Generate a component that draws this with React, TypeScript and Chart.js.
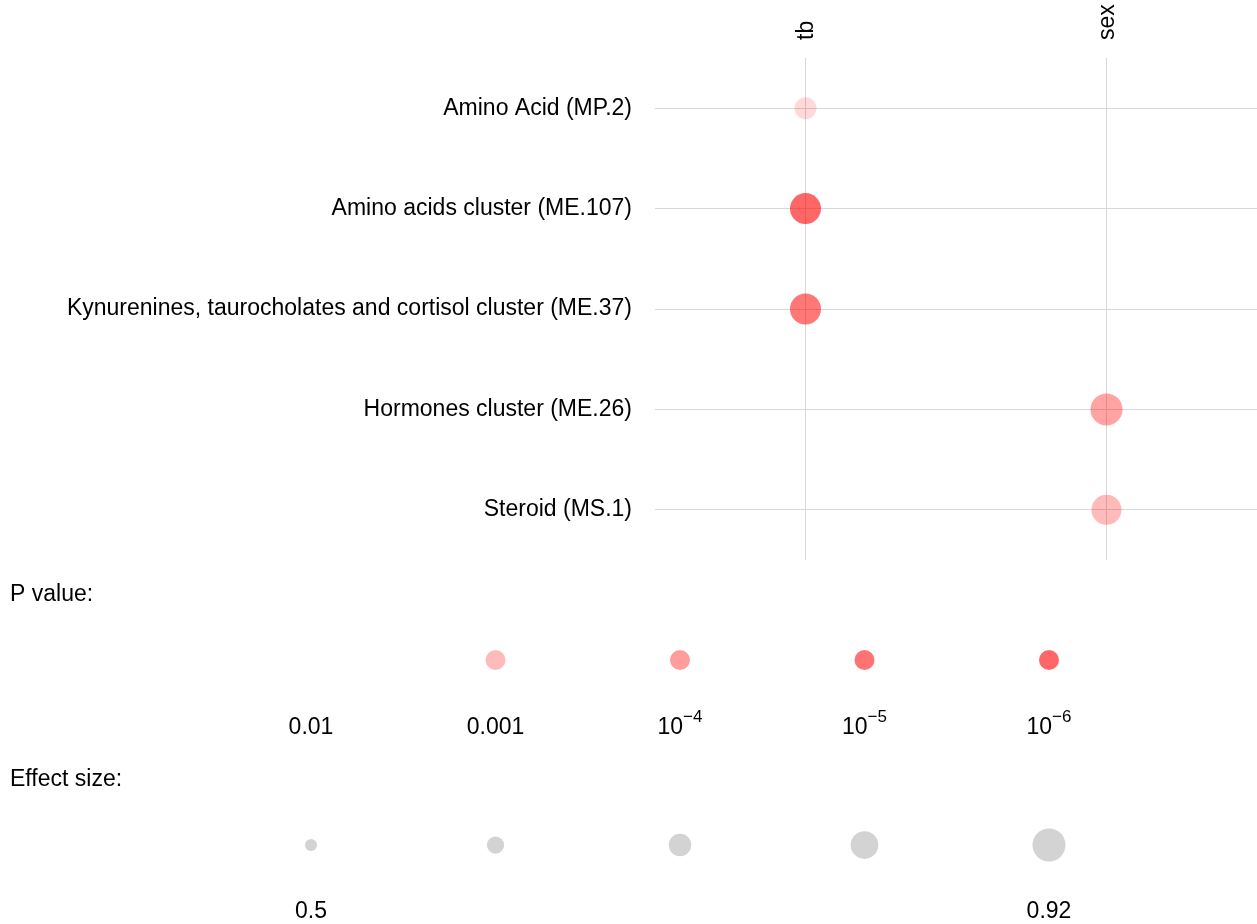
import React, { useEffect, useRef } from 'react';
import { Chart, registerables } from 'chart.js';

Chart.register(...registerables);

// ---------- data ----------
const rowLabels = [
  'Amino Acid (MP.2)',
  'Amino acids cluster (ME.107)',
  'Kynurenines, taurocholates and cortisol cluster (ME.37)',
  'Hormones cluster (ME.26)',
  'Steroid (MS.1)',
];
const columnLabels = ['tb', 'sex'];

const pointRows = [
  'Amino Acid (MP.2)',
  'Amino acids cluster (ME.107)',
  'Kynurenines, taurocholates and cortisol cluster (ME.37)',
  'Hormones cluster (ME.26)',
  'Steroid (MS.1)',
];
const pointColumns = ['tb', 'tb', 'tb', 'sex', 'sex'];
const pointPValues = [0.0028, 1e-7, 1.3e-5, 1.7e-4, 9.5e-4];
const pointEffects = [0.7, 0.88, 0.88, 0.9, 0.86];

const pLegendValues = [0.01, 0.001, 1e-4, 1e-5, 1e-6];
const pLegendLabels = ['0.01', '0.001', '10^\u22124', '10^\u22125', '10^\u22126'];
const effectLegendValues = [0.5, 0.605, 0.71, 0.815, 0.92];
const effectLegendLabels = ['0.5', '', '', '', '0.92'];

// ---------- styling ----------
const FONT_FAMILY = "'Liberation Sans', Arial, Helvetica, sans-serif";
const FONT_SIZE = 23;
const GRID_COLOR = '#d8d8d8';
const ALPHA_STOPS = [0, 0.267, 0.39, 0.55, 0.6]; // alpha at -log10(p) = 2..6
const EFFECT_MIN = 0.5;
const EFFECT_MAX = 0.92;
const R_MIN = 6;
const R_MAX = 16.5;

function alphaForP(p: number): number {
  const l = -Math.log10(p);
  const t = l - 2;
  if (t <= 0) return ALPHA_STOPS[0];
  if (t >= ALPHA_STOPS.length - 1) return ALPHA_STOPS[ALPHA_STOPS.length - 1];
  const i = Math.floor(t);
  const f = t - i;
  return ALPHA_STOPS[i] + (ALPHA_STOPS[i + 1] - ALPHA_STOPS[i]) * f;
}
function colorForP(p: number): string {
  return `rgba(255,0,0,${alphaForP(p).toFixed(3)})`;
}
function radiusForEffect(e: number): number {
  return R_MIN + ((e - EFFECT_MIN) / (EFFECT_MAX - EFFECT_MIN)) * (R_MAX - R_MIN);
}

function drawLabel(ctx: CanvasRenderingContext2D, label: string, x: number, y: number) {
  if (!label) return;
  const parts = label.split('^');
  const baseFont = `${FONT_SIZE}px ${FONT_FAMILY}`;
  const expFont = `${Math.round(FONT_SIZE * 0.72)}px ${FONT_FAMILY}`;
  ctx.textBaseline = 'middle';
  if (parts.length === 1) {
    ctx.font = baseFont;
    ctx.textAlign = 'center';
    ctx.fillText(label, x, y);
    return;
  }
  ctx.font = baseFont;
  const bw = ctx.measureText(parts[0]).width;
  ctx.font = expFont;
  const ew = ctx.measureText(parts[1]).width;
  const start = x - (bw + ew) / 2;
  ctx.textAlign = 'left';
  ctx.font = baseFont;
  ctx.fillText(parts[0], start, y);
  ctx.font = expFont;
  ctx.fillText(parts[1], start + bw, y - FONT_SIZE * 0.45);
}

function legendTextPlugin(title: string, labels: string[], titleY: number, labelOffset: number) {
  return {
    id: 'legendText',
    afterDraw(chart: any) {
      const ctx: CanvasRenderingContext2D = chart.ctx;
      const xs = chart.scales.x;
      const ys = chart.scales.y;
      ctx.save();
      ctx.fillStyle = '#000000';
      ctx.font = `${FONT_SIZE}px ${FONT_FAMILY}`;
      ctx.textAlign = 'left';
      ctx.textBaseline = 'middle';
      ctx.fillText(title, 10, titleY);
      const yLab = ys.getPixelForValue(0.5) + labelOffset;
      labels.forEach((lab, i) => drawLabel(ctx, lab, xs.getPixelForValue(i), yLab));
      ctx.restore();
    },
  };
}

// draws the rotated column labels at the x-scale's tick positions
const columnLabelPlugin = {
  id: 'columnLabels',
  afterDraw(chart: any) {
    const ctx: CanvasRenderingContext2D = chart.ctx;
    const xs = chart.scales.x;
    ctx.save();
    ctx.fillStyle = '#000000';
    ctx.font = `${FONT_SIZE}px ${FONT_FAMILY}`;
    ctx.textAlign = 'left';
    ctx.textBaseline = 'middle';
    columnLabels.forEach((lab, i) => {
      const x = xs.getPixelForValue(i);
      ctx.save();
      ctx.translate(x + 1, chart.chartArea.top - 18);
      ctx.rotate(-Math.PI / 2);
      ctx.fillText(lab, 0, 0);
      ctx.restore();
    });
    ctx.restore();
  },
};

function legendConfig(
  radii: number[],
  colors: string[],
  title: string,
  labels: string[],
  titleY: number,
  labelOffset: number
): any {
  return {
    type: 'bubble',
    data: {
      datasets: [
        {
          data: radii.map((r, i) => ({ x: i, y: 0.5, r })),
          backgroundColor: colors,
          borderWidth: 0,
          hoverRadius: 0,
          clip: false,
        },
      ],
    },
    options: {
      animation: false,
      responsive: false,
      devicePixelRatio: 1,
      events: [],
      layout: { autoPadding: false, padding: { left: 311, right: 208, top: 0, bottom: 0 } },
      plugins: { legend: { display: false }, tooltip: { enabled: false } },
      scales: {
        x: { type: 'linear', min: 0, max: labels.length - 1, display: false },
        y: { type: 'linear', min: 0, max: 1, display: false },
      },
    },
    plugins: [legendTextPlugin(title, labels, titleY, labelOffset)],
  };
}

function mainConfig(): any {
  const font = { family: FONT_FAMILY, size: FONT_SIZE };
  return {
    type: 'bubble',
    data: {
      datasets: [
        {
          data: pointRows.map((row, i) => ({
            x: pointColumns[i],
            y: row,
            r: radiusForEffect(pointEffects[i]),
          })),
          backgroundColor: pointPValues.map(colorForP),
          borderWidth: 0,
          hoverRadius: 0,
          clip: false,
        },
      ],
    },
    options: {
      animation: false,
      responsive: false,
      devicePixelRatio: 1,
      events: [],
      layout: { autoPadding: false, padding: 0 },
      plugins: { legend: { display: false }, tooltip: { enabled: false } },
      scales: {
        x: {
          type: 'category',
          labels: columnLabels,
          position: 'top',
          offset: true,
          grid: { offset: false, color: GRID_COLOR, lineWidth: 1, drawTicks: false },
          border: { display: false },
          ticks: { display: false },
          afterFit: (s: any) => {
            s.height = 58;
            s.paddingLeft = 0;
            s.paddingRight = 0;
          },
        },
        y: {
          type: 'category',
          labels: rowLabels,
          position: 'left',
          offset: true,
          grid: { offset: false, color: GRID_COLOR, lineWidth: 1, drawTicks: false },
          border: { display: false },
          ticks: { padding: 23, font, color: '#000000', autoSkip: false },
          afterFit: (s: any) => {
            s.width = 655;
            s.paddingTop = 0;
            s.paddingBottom = 0;
          },
        },
      },
    },
    plugins: [columnLabelPlugin],
  };
}

function ChartCanvas({ make, top, height }: { make: () => any; top: number; height: number }) {
  const ref = useRef<HTMLCanvasElement | null>(null);
  useEffect(() => {
    if (!ref.current) return;
    const chart = new Chart(ref.current, make());
    return () => chart.destroy();
  }, []);
  return (
    <canvas
      ref={ref}
      width={1257}
      height={height}
      style={{ position: 'absolute', left: 0, top, width: 1257, height }}
    />
  );
}

export default function App() {
  return (
    <div
      style={{
        position: 'absolute',
        left: 0,
        top: 0,
        width: 1257,
        height: 924,
        overflow: 'hidden',
        background: '#ffffff',
      }}
    >
      <ChartCanvas make={mainConfig} top={0} height={560} />
      <ChartCanvas
        make={() =>
          legendConfig(
            pLegendValues.map(() => 10),
            pLegendValues.map(colorForP),
            'P value:',
            pLegendLabels,
            25,
            68
          )
        }
        top={570}
        height={180}
      />
      <ChartCanvas
        make={() =>
          legendConfig(
            effectLegendValues.map(radiusForEffect),
            effectLegendValues.map(() => '#d3d3d3'),
            'Effect size:',
            effectLegendLabels,
            25,
            67
          )
        }
        top={755}
        height={180}
      />
    </div>
  );
}
